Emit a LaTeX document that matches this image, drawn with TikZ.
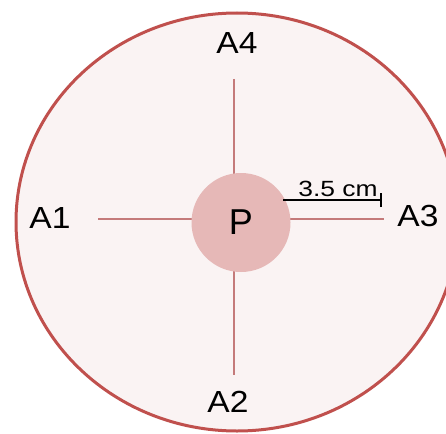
\documentclass[tikz,border=0pt]{standalone}
\usepackage{fontspec}
\setmainfont{Liberation Sans}
\definecolor{rim}{HTML}{C0504D}
\definecolor{paper}{HTML}{FAF3F3}
\definecolor{pfill}{HTML}{E6B8B7}
\definecolor{spoke}{HTML}{C47A7A}
\tikzset{
  lab/.style={font=\fontsize{30.5}{33}\selectfont, text=black, inner sep=0pt, xscale=1.1},
  spokeline/.style={draw=spoke, line width=1.6pt},
}
\begin{document}
\begin{tikzpicture}[x=1pt,y=-1pt]
\useasboundingbox (0,0) rectangle (446,433);
\begin{scope}
\clip (0,0) rectangle (446,433);
\draw[rim, line width=3pt, fill=paper] (237,222) ellipse [x radius=221, y radius=209];
\end{scope}
\coordinate (t) at (234,79);
\coordinate (b) at (234,375);
\coordinate (l) at (98,219);
\coordinate (r) at (384,219);
\draw[spokeline] (t) -- (b);
\draw[spokeline] (l) -- (r);
\node[circle, fill=pfill, minimum size=99pt, inner sep=0pt] (P) at (241,222.5) {};
\node[font=\fontsize{36}{38}\selectfont, inner sep=0pt] (Pl) at (241,222) {P};
\node[lab] (A4) at (237,43) {A4};
\node[lab] (A2) at (228,402) {A2};
\node[lab] (A1) at (50,218.5) {A1};
\node[lab] (A3) at (418,216) {A3};
\coordinate (s1) at (283,200);
\coordinate (s2) at (381,200);
\draw[black, line width=1.6pt] (s1) -- (s2);
\draw[black, line width=1.6pt] ([yshift=-7]s2) -- ([yshift=7]s2);
\node[font=\fontsize{22}{24}\selectfont, anchor=base, inner sep=0pt, xscale=1.2] (sc) at (338,196) {3.5 cm};
\end{tikzpicture}
\end{document}
